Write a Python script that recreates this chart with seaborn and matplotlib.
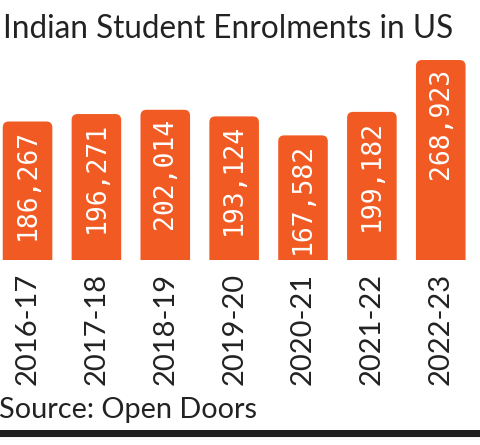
import matplotlib
matplotlib.use("Agg")
import matplotlib.pyplot as plt
import seaborn as sns
import pandas as pd
from matplotlib.patches import FancyBboxPatch, Rectangle

# Dados
years = ["2016-17", "2017-18", "2018-19", "2019-20", "2020-21", "2021-22", "2022-23"]
students = [186267, 196271, 202014, 193124, 167582, 199182, 268923]

bar_color = "#F15A22"
text_color = "#222222"

sns.set_theme(style="white")
plt.rcParams["font.family"] = ["Lato", "DejaVu Sans"]

df = pd.DataFrame({"year": years, "students": students})

fig = plt.figure(figsize=(4.8, 4.45), dpi=100)
ax = fig.add_axes([0, 185 / 445, 1, 210 / 445])

sns.barplot(data=df, x="year", y="students", color=bar_color, saturation=1,
            width=0.72, ax=ax)
ax.set_xlim(-0.40, 6.57)
ax.set_ylim(0, 282400)

# barras com cantos arredondados em cima
x_px = 480 / (6.57 + 0.40)
y_unit = 282400 / 210
aspect = y_unit * x_px
r = 6 / x_px
for p in list(ax.patches):
    x, w, h = p.get_x(), p.get_width(), p.get_height()
    p.remove()
    fb = FancyBboxPatch((x, -r * aspect * 2), w, h + r * aspect * 2,
                        boxstyle=f"round,pad=0,rounding_size={r}",
                        mutation_aspect=aspect, facecolor=bar_color,
                        edgecolor="none")
    ax.add_patch(fb)

# rótulos de valor
for i, v in enumerate(students):
    ax.annotate(f"{v:,}", (i, v), xytext=(0, -5.5), textcoords="offset points",
                rotation=90, ha="center", va="top", color="white",
                fontsize=19, family="DejaVu Sans Mono")

ax.set_xlabel("")
ax.set_ylabel("")
ax.set_yticks([])
ax.tick_params(axis="x", length=0, pad=9, labelsize=21, labelcolor=text_color,
               rotation=90)
for s in ax.spines.values():
    s.set_visible(False)

fig.text(0.006, 1 - 38 / 445, "Indian Student Enrolments in US", fontsize=22.7,
         va="baseline", ha="left", color=text_color)
fig.text(-0.002, 1 - 418 / 445, "Source: Open Doors", fontsize=20.8,
         va="baseline", ha="left", color=text_color)

# faixa inferior
for k, g in enumerate([0.97, 0.94, 0.90, 0.85, 0.75]):
    fig.add_artist(Rectangle((0, (445 - 430 + k * 2 - 10) / 445), 1, 2 / 445,
                             transform=fig.transFigure, color=str(g), lw=0))
fig.add_artist(Rectangle((0, (445 - 437) / 445), 1, 7 / 445,
                         transform=fig.transFigure, color="#1c1c1c", lw=0))

fig.savefig("out.png", dpi=100)
